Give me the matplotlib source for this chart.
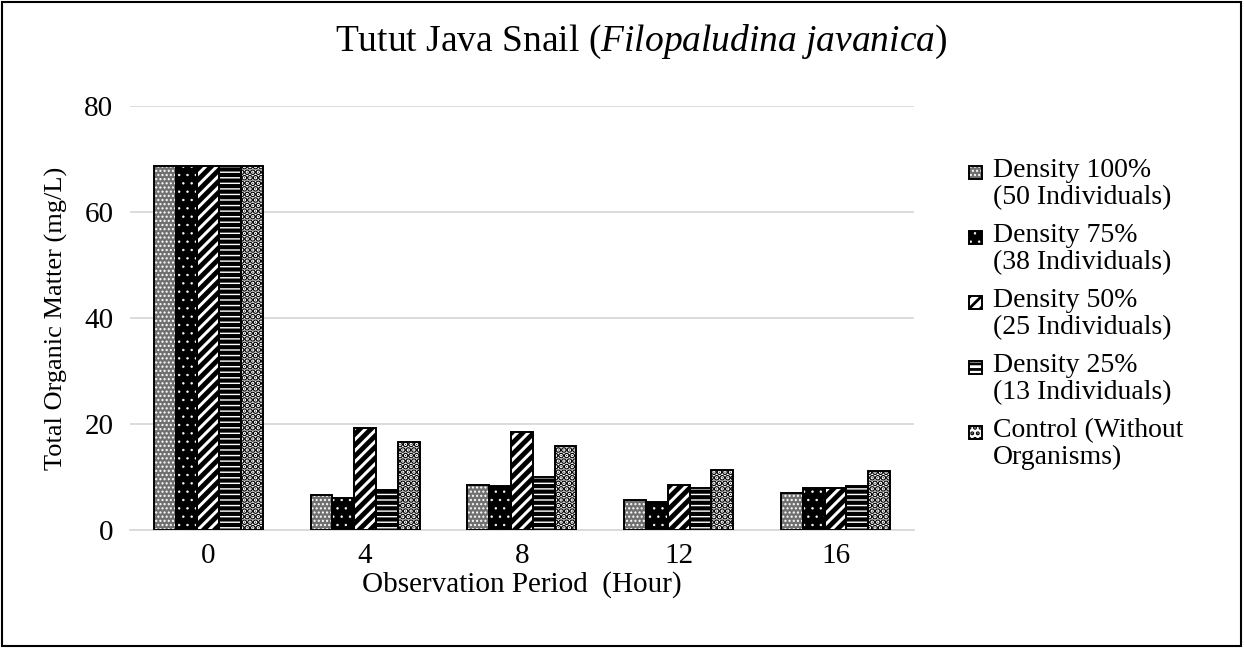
"""
grouped bar chart with hatch patterns, Excel-like style
"""
import numpy as np
import matplotlib
matplotlib.use("Agg")
import matplotlib.pyplot as plt
from matplotlib.patches import Rectangle

periods = ["0", "4", "8", "12", "16"]
series_names = ["Density 100%\n(50 Individuals)",
                "Density 75%\n(38 Individuals)",
                "Density 50%\n(25 Individuals)",
                "Density 25%\n(13 Individuals)",
                "Control (Without\nOrganisms)"]
density_100 = [68.6, 6.6, 8.5, 5.6, 7.0]
density_75 = [68.6, 6.0, 8.4, 5.2, 8.0]
density_50 = [68.6, 19.3, 18.5, 8.5, 8.0]
density_25 = [68.6, 7.5, 10.0, 8.0, 8.3]
control = [68.6, 16.6, 15.8, 11.3, 11.1]

# (face, hatch colour, hatch, hatch linewidth)
styles = [("#707070", "white", "....", 1.0),
          ("black", "white", "..", 0.5),
          ("white", "black", "///", 3.5),
          ("white", "black", "---", 3.0),
          ("white", "black", "...", 3.2)]

plt.rcParams["font.family"] = ["Liberation Serif", "DejaVu Serif"]
plt.rcParams["mathtext.fontset"] = "custom"
plt.rcParams["mathtext.it"] = "Liberation Serif:italic"
plt.rcParams["mathtext.rm"] = "Liberation Serif"

fig = plt.figure(figsize=(12.45, 6.48), dpi=100)
ax = fig.add_axes([0.1044, 0.182, 0.6297, 0.6546])

x = np.arange(len(periods))
width = 0.139
all_series = [density_100, density_75, density_50, density_25, control]
for i, (vals, (face, hcol, hatch, hlw)) in enumerate(zip(all_series, styles)):
    pos = x + (i - 2) * width
    with plt.rc_context({"hatch.linewidth": hlw}):
        ax.bar(pos, vals, width, color=face, edgecolor=hcol, hatch=hatch,
               linewidth=0, zorder=2)
    ax.bar(pos, vals, width, fill=False, edgecolor="black", linewidth=1.4,
           zorder=3)

ax.set_ylim(0, 80)
ax.set_xlim(-0.5, len(periods) - 0.5)
ax.set_yticks([0, 20, 40, 60, 80])
ax.set_xticks(x)
ax.set_xticklabels(periods)
ax.tick_params(axis="both", length=0, labelsize=21)
ax.tick_params(axis="x", pad=9)
ax.tick_params(axis="y", pad=12)
ax.yaxis.grid(True, color="#d9d9d9", linewidth=1.3, zorder=0)
ax.set_axisbelow(True)
for side in ["top", "right", "left"]:
    ax.spines[side].set_visible(False)
ax.spines["bottom"].set_color("#d9d9d9")
ax.spines["bottom"].set_linewidth(1.3)

ax.set_xlabel("Observation Period  (Hour)", fontsize=21, labelpad=2)
ax.set_ylabel("Total Organic Matter (mg/L)", fontsize=19, labelpad=12)
fig.text(0.515, 0.935, r"Tutut Java Snail ($\mathit{Filopaludina\ javanica}$)",
         fontsize=27, ha="center", va="center")

# legend drawn by hand so the marker sits on the first text line
leg_x = 0.778
leg_y0 = 1 - 172 / 648
leg_step = 65 / 648
box = 13
for i, (name, (face, hcol, hatch, hlw)) in enumerate(zip(series_names, styles)):
    y = leg_y0 - i * leg_step
    with plt.rc_context({"hatch.linewidth": min(hlw, 2.0)}):
        fig.patches.append(Rectangle((leg_x, y - box / 2 / 648), box / 1245,
                                     box / 648, transform=fig.transFigure,
                                     facecolor=face, edgecolor=hcol,
                                     hatch=hatch, linewidth=0))
    fig.patches.append(Rectangle((leg_x, y - box / 2 / 648), box / 1245,
                                 box / 648, transform=fig.transFigure,
                                 fill=False, edgecolor="black", linewidth=1.4))
    fig.text(leg_x + 0.0195, y + 0.022, name, fontsize=20, ha="left",
             va="top", linespacing=1.1)

# chart border
fig.patches.append(Rectangle((0.002, 0.003), 0.995, 0.994,
                             transform=fig.transFigure, fill=False,
                             edgecolor="black", linewidth=1.5))

plt.savefig("out.png", dpi=100)
